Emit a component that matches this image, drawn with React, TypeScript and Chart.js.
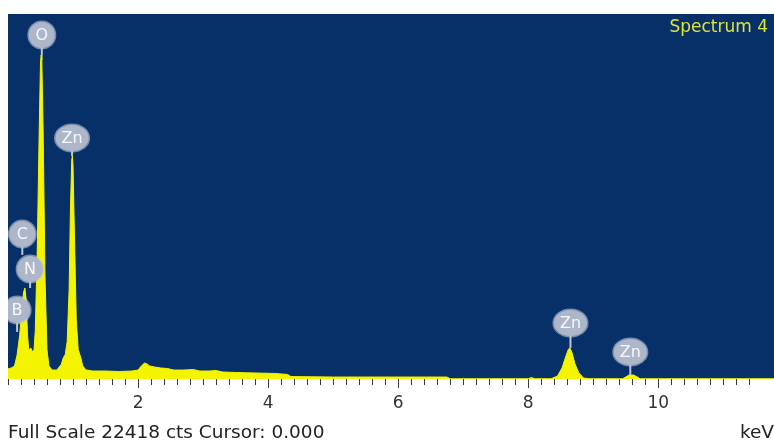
import React, { useEffect, useRef } from 'react';
import { Chart, registerables } from 'chart.js';

Chart.register(...registerables);

// Spectrum data (keV, counts)
const energyKeV = [
  0.00, 0.05, 0.10, 0.14, 0.18, 0.21, 0.24, 0.26, 0.28, 0.30,
  0.32, 0.35, 0.38, 0.40, 0.42, 0.45, 0.48, 0.50, 0.51, 0.52,
  0.54, 0.57, 0.60, 0.63, 0.68, 0.75, 0.82, 0.85, 0.88, 0.91,
  0.94, 0.96, 0.98, 0.99, 1.00, 1.02, 1.05, 1.08, 1.12, 1.15,
  1.20, 1.30, 1.50, 1.70, 1.90, 2.00, 2.05, 2.10, 2.14, 2.18,
  2.25, 2.35, 2.45, 2.55, 2.70, 2.85, 2.95, 3.10, 3.20, 3.30,
  3.50, 3.80, 4.10, 4.30, 4.35, 5.00, 6.00, 6.75, 6.80, 8.00,
  8.05, 8.10, 8.35, 8.45, 8.52, 8.58, 8.62, 8.64, 8.67, 8.72,
  8.78, 8.85, 8.95, 9.45, 9.50, 9.55, 9.62, 9.68, 9.72, 11.78,
];
const counts = [
  620, 680, 800, 1470, 2700, 4240, 5340, 5590, 4850, 2700,
  1780, 1900, 1660, 1780, 3000, 7920, 15300, 19470, 19900, 19590,
  15300, 6080, 1780, 800, 550, 550, 900, 1300, 1500, 2300,
  5470, 10380, 13450, 13700, 13140, 9150, 3620, 1800, 1300, 800,
  560, 490, 490, 460, 490, 550, 800, 980, 920, 800,
  740, 675, 645, 550, 550, 580, 490, 490, 520, 430,
  400, 370, 340, 280, 150, 120, 120, 120, 15, 15,
  90, 15, 15, 180, 675, 1410, 1840, 1900, 1660, 920,
  370, 60, 15, 15, 120, 245, 245, 120, 15, 15,
];

const FULL_SCALE = 22418;
const X_MAX = 11.78;
const tickLabelValues = [2, 4, 6, 8, 10];

// Peak labels
const labelElements = ['B', 'C', 'N', 'O', 'Zn', 'Zn', 'Zn'];
const labelEnergy = [0.14, 0.22, 0.34, 0.52, 0.985, 8.65, 9.57];
const labelCounts = [4240, 8900, 6750, 21130, 14800, 3440, 1660];
const stemEndCounts = [2890, 7620, 5590, 19900, 13700, 1900, 245];

const spectrumName = 'Spectrum 4';
const footerText = 'Full Scale 22418 cts Cursor: 0.000';
const axisUnit = 'keV';

const BG = '#063067';
const YELLOW = '#f4f400';
const FONT = '"DejaVu Sans", "Liberation Sans", sans-serif';

const bgPlugin = {
  id: 'bgPlugin',
  beforeDraw(chart: any) {
    const { ctx, chartArea: a, width, height } = chart;
    ctx.save();
    ctx.fillStyle = '#ffffff';
    ctx.fillRect(0, 0, width, height);
    ctx.fillStyle = BG;
    ctx.fillRect(a.left, a.top, a.right - a.left, a.bottom - a.top);
    ctx.restore();
  },
};

const labelPlugin = {
  id: 'peakLabels',
  afterDatasetsDraw(chart: any) {
    const { ctx, chartArea: a, scales } = chart;
    const x = scales.x;
    const y = scales.y;
    ctx.save();
    ctx.beginPath();
    ctx.rect(a.left, a.top, a.right - a.left, a.bottom - a.top);
    ctx.clip();
    ctx.font = `16px ${FONT}`;
    labelElements.forEach((el, i) => {
      const px = x.getPixelForValue(labelEnergy[i]);
      const py = y.getPixelForValue(labelCounts[i]);
      const sy = y.getPixelForValue(stemEndCounts[i]);
      const tw = ctx.measureText(el).width;
      const rx = Math.max(13, tw / 2 + 6);
      const ry = 13;
      ctx.strokeStyle = '#bcc4d3';
      ctx.lineWidth = 2;
      ctx.beginPath();
      ctx.moveTo(px, py + ry - 2);
      ctx.lineTo(px, sy);
      ctx.stroke();
      ctx.fillStyle = 'rgba(196,203,218,0.6)';
      ctx.beginPath();
      ctx.ellipse(px, py, rx + 1.5, ry + 1.5, 0, 0, Math.PI * 2);
      ctx.fill();
      ctx.fillStyle = '#aeb7c9';
      ctx.beginPath();
      ctx.ellipse(px, py, rx, ry, 0, 0, Math.PI * 2);
      ctx.fill();
      ctx.fillStyle = '#f5f7fb';
      ctx.textAlign = 'center';
      ctx.textBaseline = 'middle';
      ctx.fillText(el, px, py + 1);
    });
    ctx.restore();
  },
};

const textPlugin = {
  id: 'texts',
  afterDraw(chart: any) {
    const { ctx, chartArea: a, height, scales } = chart;
    const x = scales.x;
    ctx.save();
    // longer major ticks
    ctx.strokeStyle = '#3a3a3a';
    ctx.lineWidth = 1;
    tickLabelValues.forEach((v) => {
      const px = Math.round(x.getPixelForValue(v)) + 0.5;
      ctx.beginPath();
      ctx.moveTo(px, a.bottom + 1);
      ctx.lineTo(px, a.bottom + 9);
      ctx.stroke();
    });
    ctx.font = `17px ${FONT}`;
    ctx.fillStyle = '#dce43e';
    ctx.textAlign = 'right';
    ctx.textBaseline = 'middle';
    ctx.fillText(spectrumName, a.right - 6, a.top + 14);
    ctx.font = `18.5px ${FONT}`;
    ctx.fillStyle = '#222222';
    ctx.textAlign = 'left';
    ctx.textBaseline = 'alphabetic';
    ctx.fillText(footerText, 8, height - 5);
    ctx.textAlign = 'right';
    ctx.fillText(axisUnit, a.right, height - 5);
    ctx.restore();
  },
};

export default function App() {
  const ref = useRef<HTMLCanvasElement>(null);
  useEffect(() => {
    const canvas = ref.current;
    if (!canvas) return;
    const points = energyKeV.map((e, i) => ({ x: e, y: counts[i] }));
    const chart = new Chart(canvas, {
      type: 'line',
      data: {
        datasets: [
          {
            data: points,
            borderColor: YELLOW,
            backgroundColor: YELLOW,
            borderWidth: 1,
            fill: 'origin',
            pointRadius: 0,
            tension: 0,
          },
        ],
      },
      options: {
        animation: false,
        responsive: false,
        devicePixelRatio: 1,
        events: [],
        layout: { padding: { left: 8, top: 14, right: 0, bottom: 0 } },
        plugins: { legend: { display: false }, tooltip: { enabled: false } },
        scales: {
          x: {
            type: 'linear',
            min: 0,
            max: X_MAX,
            afterFit: (s: any) => {
              s.height = 64;
              s.paddingLeft = 0;
              s.paddingRight = 0;
            },
            border: { display: false },
            grid: { drawOnChartArea: false, drawTicks: true, tickLength: 6, color: '#3a3a3a', lineWidth: 1 },
            ticks: {
              stepSize: 0.2,
              autoSkip: false,
              maxRotation: 0,
              minRotation: 0,
              padding: 8,
              color: '#333333',
              font: { family: FONT, size: 17 },
              callback: (v: any) => {
                const r = Math.round(Number(v) * 1000) / 1000;
                return tickLabelValues.includes(r) ? String(r) : '';
              },
            },
          },
          y: { type: 'linear', min: 0, max: FULL_SCALE, display: false },
        },
      },
      plugins: [bgPlugin, labelPlugin, textPlugin],
    } as any);
    return () => chart.destroy();
  }, []);
  return (
    <div style={{ position: 'absolute', left: 0, top: 0, width: 774, height: 443, background: '#fff' }}>
      <canvas ref={ref} width={774} height={443} style={{ display: 'block', width: 774, height: 443 }} />
    </div>
  );
}
